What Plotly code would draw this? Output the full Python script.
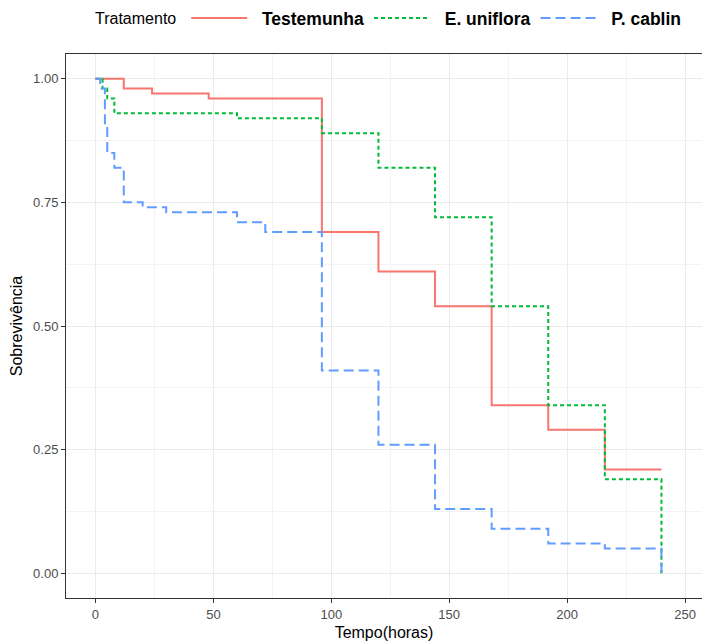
import plotly.graph_objects as go

# Kaplan-Meier step data (time in hours, survival proportion)
tempo_testemunha = [0, 12, 24, 48, 96, 120, 144, 168, 192, 216, 240]
surv_testemunha = [1.00, 0.98, 0.97, 0.96, 0.69, 0.61, 0.54, 0.34, 0.29, 0.21, 0.21]

tempo_uniflora = [0, 3, 5, 8, 60, 96, 120, 144, 168, 192, 216, 240]
surv_uniflora = [1.00, 0.98, 0.96, 0.93, 0.92, 0.89, 0.82, 0.72, 0.54, 0.34, 0.19, 0.00]

tempo_cablin = [0, 2, 4, 5, 8, 12, 20, 30, 60, 72, 96, 120, 144, 168, 192, 216, 240]
surv_cablin = [1.00, 0.98, 0.91, 0.85, 0.82, 0.75, 0.74, 0.73, 0.71, 0.69, 0.41, 0.26, 0.13, 0.09, 0.06, 0.05, 0.00]

x_ticks = [0, 50, 100, 150, 200, 250]
y_ticks = [0.00, 0.25, 0.50, 0.75, 1.00]
y_tick_labels = ["0.00", "0.25", "0.50", "0.75", "1.00"]

series = [
    ("Testemunha", tempo_testemunha, surv_testemunha, "#F8766D", "solid"),
    ("E. uniflora", tempo_uniflora, surv_uniflora, "#00BA38", "4px,3px"),
    ("P. cablin", tempo_cablin, surv_cablin, "#619CFF", "10px,5px"),
]

FONT = "Liberation Sans, Arial, sans-serif"
NBSP = "\u00a0"
LEGEND_Y = 1.066

fig = go.Figure()
for name, t, s, color, dash in series:
    fig.add_trace(go.Scatter(
        x=t, y=s, mode="lines", name=f"{NBSP * 2}<b>{name}</b>",
        line=dict(color=color, width=2, dash=dash, shape="hv"),
    ))

# legend title placed on the same baseline as the legend entries
fig.add_annotation(
    text="Tratamento", xref="paper", yref="paper",
    x=0.043, y=LEGEND_Y, xanchor="left", yanchor="middle",
    showarrow=False, font=dict(size=16, color="#000000"),
)

fig.update_layout(
    width=702, height=641,
    margin=dict(l=66, r=0, t=53, b=43),
    paper_bgcolor="white", plot_bgcolor="white",
    font=dict(family=FONT, color="#000000"),
    legend=dict(
        orientation="h", x=0.189, xanchor="left", y=LEGEND_Y, yanchor="middle",
        font=dict(size=17.5, color="#000000"),
        itemwidth=56, bgcolor="rgba(0,0,0,0)",
        tracegroupgap=0, valign="middle",
    ),
    xaxis=dict(
        range=[-12.5, 257.2], tickvals=x_ticks, ticks="outside", ticklen=4,
        tickcolor="#333333", tickwidth=1,
        tickfont=dict(size=13, color="#4D4D4D"),
        showgrid=True, gridcolor="#EBEBEB", gridwidth=1,
        minor=dict(dtick=25, tick0=0, showgrid=True, gridcolor="#F3F3F3", gridwidth=0.6, ticks=""),
        showline=True, linecolor="#333333", linewidth=1, mirror=True,
        zeroline=False,
        title=dict(text="Tempo(horas)", font=dict(size=16, color="#000000"), standoff=6),
    ),
    yaxis=dict(
        range=[-0.05, 1.05], tickvals=y_ticks, ticktext=y_tick_labels,
        ticks="outside", ticklen=4, tickcolor="#333333", tickwidth=1,
        tickfont=dict(size=13, color="#4D4D4D"),
        showgrid=True, gridcolor="#EBEBEB", gridwidth=1,
        minor=dict(dtick=0.125, tick0=0.125, showgrid=True, gridcolor="#F3F3F3", gridwidth=0.6, ticks=""),
        showline=True, linecolor="#333333", linewidth=1, mirror=False,
        zeroline=False,
        title=dict(text="Sobrevivência", font=dict(size=16, color="#000000"), standoff=6),
    ),
)

fig.write_html("out.html")
